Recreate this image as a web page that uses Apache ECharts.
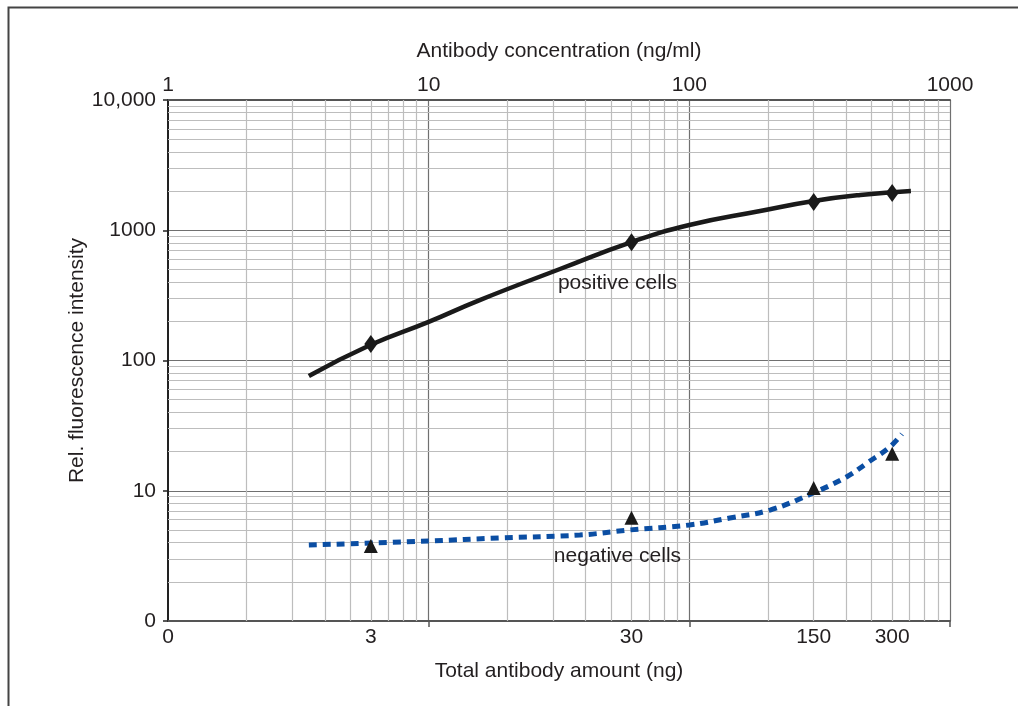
<!DOCTYPE html>
<html>
<head>
<meta charset="utf-8">
<script src="https://cdn.jsdelivr.net/npm/echarts@6/dist/echarts.min.js"></script>
<style>
  html, body { margin: 0; padding: 0; background: #fff; }
  #main { width: 1018px; height: 706px; }
</style>
</head>
<body>
<div id="main"></div>
<script>
// concentration in ng/ml (top axis), amount in ng = concentration / 2 (bottom axis labels)
var amountTickConc = [1, 6, 60, 300, 600];
var amountTickText = ['0', '3', '30', '150', '300'];

// measured points
var pointConc = [6, 60, 300, 600];
var positivePoints = [134, 810, 1650, 1930];
var negativePoints = [3.77, 6.2, 10.5, 19.2];

// fitted curves
var positiveCurveConc = [3.47, 6, 10, 15.7, 31.9, 60, 100, 187, 300, 453, 708];
var positiveCurve = [76, 132, 198, 291, 504, 812, 1097, 1406, 1677, 1866, 2000];
var negativeCurveConc = [3.47, 10, 18.7, 38, 59, 100, 143, 204, 298, 402, 480, 588, 654];
var negativeCurve = [3.83, 4.11, 4.34, 4.57, 5.0, 5.46, 6.18, 7.11, 9.6, 12.8, 16.3, 21.7, 27.3];

// curve captions
var noteConc = [53, 53];
var noteValue = [394, 3.16];
var noteText = ['positive cells', 'negative cells'];

var FONT = "'Liberation Sans', Arial, sans-serif";
var TXT = '#231f20';
var FS = 21;

function pairs(xs, ys) {
  return xs.map(function (x, i) { return [x, ys[i]]; });
}

// minor grid at 2..9 of each decade
var minorLines = [];
[1, 10, 100].forEach(function (d) {
  for (var k = 2; k <= 9; k++) minorLines.push({ xAxis: d * k });
});
[1, 10, 100, 1000].forEach(function (d) {
  for (var k = 2; k <= 9; k++) minorLines.push({ yAxis: d * k });
});

var chart = echarts.init(document.getElementById('main'), null, { renderer: 'canvas' });

var option = {
  animation: false,
  backgroundColor: '#fff',
  textStyle: { fontFamily: FONT },
  grid: { left: 168, right: 68, top: 100, bottom: 85 },
  graphic: [{
    type: 'polyline',
    shape: { points: [[8.5, 706], [8.5, 7.5], [1018, 7.5]] },
    style: { stroke: '#444', lineWidth: 2, fill: null }
  }],
  xAxis: [{
    type: 'log',
    logBase: 10,
    min: 1,
    max: 1000,
    position: 'bottom',
    name: 'Total antibody amount (ng)',
    nameLocation: 'middle',
    nameGap: 40,
    nameTextStyle: { fontSize: FS, color: TXT, fontFamily: FONT },
    axisLine: { lineStyle: { color: '#555', width: 2 } },
    axisTick: { show: true, length: 6, customValues: [10, 100, 1000], lineStyle: { color: '#555', width: 1.5 } },
    axisLabel: {
      customValues: amountTickConc,
      margin: 6,
      fontSize: FS,
      color: TXT,
      fontFamily: FONT,
      formatter: function (v) {
        var best = 0;
        for (var i = 0; i < amountTickConc.length; i++) {
          if (Math.abs(amountTickConc[i] - v) < Math.abs(amountTickConc[best] - v)) best = i;
        }
        return amountTickText[best];
      }
    },
    splitLine: { show: true, lineStyle: { color: '#707070', width: 1.2 } }
  }, {
    type: 'log',
    logBase: 10,
    min: 1,
    max: 1000,
    position: 'top',
    name: 'Antibody concentration (ng/ml)',
    nameLocation: 'middle',
    nameGap: 38,
    nameTextStyle: { fontSize: FS, color: TXT, fontFamily: FONT },
    axisLine: { lineStyle: { color: '#555', width: 2 } },
    axisTick: { show: false },
    axisLabel: {
      margin: 4,
      fontSize: FS,
      color: TXT,
      fontFamily: FONT,
      formatter: function (v) { return String(Math.round(v)); }
    },
    splitLine: { show: false }
  }],
  yAxis: [{
    type: 'log',
    logBase: 10,
    min: 1,
    max: 10000,
    name: 'Rel. fluorescence intensity',
    nameLocation: 'middle',
    nameRotate: 90,
    nameGap: 80,
    nameMoveOverlap: false,
    nameTextStyle: { fontSize: FS, color: TXT, fontFamily: FONT },
    axisLine: { lineStyle: { color: '#222', width: 2 } },
    axisTick: { show: true, inside: false, length: 5, lineStyle: { color: '#222', width: 1.5 } },
    axisLabel: {
      margin: 12,
      fontSize: FS,
      color: TXT,
      fontFamily: FONT,
      formatter: function (v) {
        var n = Math.round(v);
        if (n === 1) return '0';
        if (n === 10000) return '10,000';
        return String(n);
      }
    },
    splitLine: { show: true, lineStyle: { color: '#707070', width: 1.2 } }
  }],
  series: [{
    // minor log grid, kept under the curves
    type: 'line',
    data: [],
    z: 1,
    silent: true,
    markLine: {
      z: 1,
      silent: true,
      symbol: 'none',
      label: { show: false },
      lineStyle: { color: '#bdbdbd', width: 1.2, type: 'solid' },
      emphasis: { disabled: true },
      data: minorLines
    }
  }, {
    name: 'positive fit',
    type: 'line',
    z: 3,
    smooth: 0.5,
    showSymbol: false,
    lineStyle: { color: '#1a1a1a', width: 4.5 },
    data: pairs(positiveCurveConc, positiveCurve)
  }, {
    name: 'negative fit',
    type: 'line',
    z: 3,
    smooth: 0.4,
    showSymbol: false,
    lineStyle: { color: '#0b4ea3', width: 5, type: [8, 6] },
    data: pairs(negativeCurveConc, negativeCurve)
  }, {
    name: 'positive cells',
    type: 'scatter',
    z: 4,
    symbol: 'diamond',
    symbolSize: [13, 18],
    itemStyle: { color: '#1a1a1a', opacity: 1 },
    data: pairs(pointConc, positivePoints)
  }, {
    name: 'negative cells',
    type: 'scatter',
    z: 4,
    symbol: 'triangle',
    symbolSize: 14,
    itemStyle: { color: '#1a1a1a', opacity: 1 },
    data: pairs(pointConc, negativePoints)
  }, {
    name: 'notes',
    type: 'scatter',
    z: 5,
    symbolSize: 0,
    silent: true,
    itemStyle: { opacity: 1 },
    label: {
      show: true,
      position: 'inside',
      fontSize: FS,
      color: TXT,
      fontFamily: FONT,
      formatter: function (p) { return noteText[p.dataIndex]; }
    },
    data: pairs(noteConc, noteValue)
  }]
};

chart.setOption(option);
</script>
</body>
</html>
